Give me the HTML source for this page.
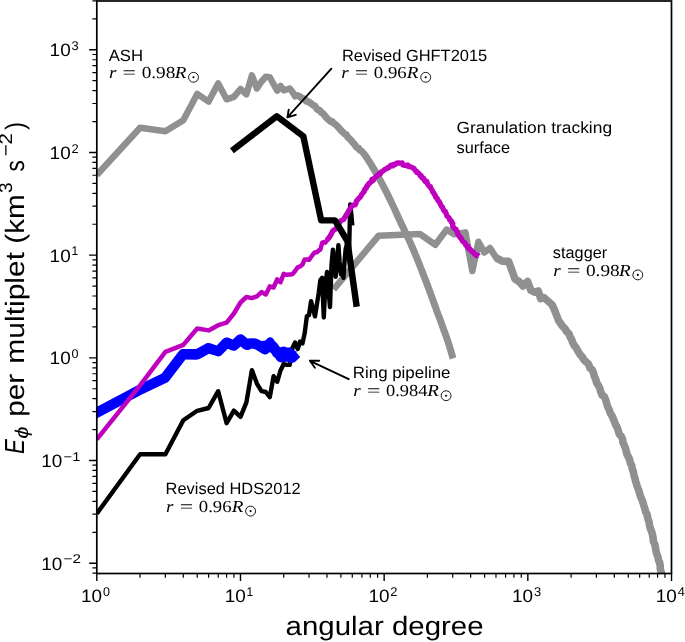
<!DOCTYPE html>
<html><head><meta charset="utf-8"><title>Power spectra</title>
<style>html,body{margin:0;padding:0;background:#fff;}svg{display:block;font-family:"Liberation Sans",sans-serif;text-rendering:geometricPrecision;will-change:transform;}</style>
</head><body>
<svg width="685" height="642" viewBox="0 0 685 642">
<rect width="685" height="642" fill="#fff"/>
<defs><clipPath id="ax"><rect x="96.8" y="1.0" width="574.7" height="572.5"/></clipPath></defs>
<g clip-path="url(#ax)" fill="none" stroke-linejoin="round" stroke-linecap="butt">
<polyline points="96.8,175.0 140.1,127.8 165.4,131.3 183.3,120.3 197.2,93.9 208.6,101.6 218.2,83.4 226.6,99.3 233.9,96.9 240.5,89.0 246.4,94.3 251.9,75.4 256.9,88.5 261.5,81.5 265.8,76.8 269.8,77.2 273.6,84.2 277.2,90.6 280.5,85.9 283.7,90.3 286.8,89.4 289.7,88.5 292.5,92.0 295.1,96.4 297.7,95.2 299.0,96.1 300.8,97.4 302.9,98.7" stroke="#909090" stroke-width="6.5"/>
<polyline points="299.0,96.1 300.8,97.4 302.9,98.7 304.9,99.1 306.4,101.4 308.5,101.8 311.1,103.5 313.0,105.0 315.0,106.1 316.6,108.5 318.1,109.8 319.7,110.3 321.4,112.5 322.6,113.2 324.6,115.3 326.0,117.3 327.5,118.8 328.9,119.9 330.5,121.4 332.3,121.4 333.3,122.9 335.5,124.5 336.8,125.7 338.2,127.2 339.7,128.9 341.4,130.8 343.1,132.4 344.8,134.1 346.2,134.5 347.9,137.4 349.5,138.7 350.9,140.0 352.5,142.3 353.7,143.2 355.7,146.1 356.7,147.4 358.4,148.0 359.8,150.2 361.3,150.9 362.8,152.4 364.6,154.6 365.6,156.0 366.6,157.5 367.7,159.2 368.9,161.1 370.1,163.0 371.4,165.0 372.5,166.9 373.7,168.9 374.8,170.7 375.8,172.5 376.9,174.2 377.8,176.0 378.8,177.7 379.8,179.5 380.7,181.3 381.7,183.0 382.6,184.9 383.6,186.7 384.6,188.6 385.6,190.5 386.6,192.5 387.6,194.5 388.5,196.5 389.5,198.4 390.5,200.4 391.4,202.3 392.3,204.2 393.2,206.2 394.1,208.0 394.9,209.7 395.7,211.5 396.5,213.3 397.4,215.3 398.4,217.5 399.6,220.0 400.3,221.5 401.0,223.1 401.8,224.7 402.6,226.4 403.5,228.2 404.3,230.0 405.2,231.9 406.1,233.8 407.0,235.7 408.0,237.6 408.9,239.6 409.8,241.6 410.7,243.6 411.5,245.5 412.4,247.5 413.2,249.3 414.0,251.2 414.8,253.1 415.5,254.9 416.3,256.8 417.1,258.8 417.9,260.7 418.7,262.6 419.5,264.6 420.2,266.5 421.0,268.5 421.8,270.5 422.6,272.5 423.3,274.5 424.1,276.5 424.9,278.5 425.6,280.4 426.4,282.4 427.1,284.4 427.9,286.4 428.6,288.4 429.4,290.4 430.1,292.5 430.9,294.6 431.6,296.6 432.4,298.6 433.1,300.7 433.8,302.7 434.5,304.6 435.3,306.6 436.0,308.5 436.6,310.4 437.3,312.2 438.1,314.4 438.9,316.5 439.7,318.6 440.5,320.7 441.2,322.8 442.0,324.8 442.7,326.8 443.4,328.8 444.1,330.7 444.8,332.6 445.5,334.4 446.1,336.2 446.7,337.9 447.3,339.6 448.2,342.2 449.0,344.7 449.7,347.2 450.4,349.5 451.1,351.7 451.7,353.8 452.2,355.6 452.6,357.1 453.0,358.3" stroke="#909090" stroke-width="7.0"/>
<polyline points="333.6,289.3 378.5,235.8 419.9,234.0 435.3,244.8 446.6,229.6 454.5,234.3 465.4,232.4 472.3,271.0 478.4,241.8 484.3,252.4 490.0,248.1 496.2,257.8 502.4,261.2 508.6,261.4" stroke="#909090" stroke-width="6.6"/>
<polyline points="496.2,257.8 502.4,261.2 508.6,261.4 515.0,279.0 519.3,281.8 523.0,286.0 527.6,281.5 530.8,290.2 535.1,292.2 538.3,291.0 540.6,298.6 543.9,297.5 551.9,304.5 553.0,306.7 554.7,310.4 555.8,313.3 557.3,317.1 558.6,320.6 560.3,322.9 562.4,326.1 564.8,328.4 566.6,331.5 569.0,333.7 570.3,337.5 571.5,339.0 572.7,342.7 574.5,345.9 576.0,347.4 577.5,350.3 579.6,353.9 582.3,357.0 583.9,359.8 586.0,361.8 588.5,364.0 590.0,368.1 592.3,370.0 593.7,373.7 594.3,376.2 595.8,379.6 596.7,382.9 598.5,385.6 599.6,387.9 600.7,391.7 602.0,395.0 604.1,396.4 605.6,399.7 606.7,403.5 607.6,406.5 609.2,409.9 610.2,413.0 612.1,416.0 613.0,418.1 614.3,421.5 615.8,425.0 617.0,427.0 618.3,430.7 619.2,434.1 620.9,435.7 622.5,438.7 623.0,442.7 624.3,445.4 625.4,448.2 626.1,450.7 627.0,454.6 628.6,457.3 629.7,460.0 630.3,463.0 631.7,465.4 632.3,468.7 633.4,471.9 633.9,474.9 635.0,478.6 635.7,481.7 636.4,483.6 637.2,486.3 638.9,490.6 639.4,492.8 640.7,496.9 642.1,500.1 642.9,502.2 643.8,505.4 645.0,509.3 645.7,511.9 647.1,514.6 648.0,519.3 649.0,521.6 649.5,525.1 650.5,529.0 651.4,530.9 652.4,534.4 653.1,538.0 653.4,541.3 654.7,544.0 655.4,547.1 655.9,550.5 656.6,553.6 657.9,556.7 658.7,560.8 659.7,562.5 660.3,566.6 660.3,569.3 661.2,571.9 662.2,577.1 663.0,580.0" stroke="#909090" stroke-width="7.6"/>
<polyline points="96.8,513.6 140.1,454.3 165.4,454.3 183.3,420.2 197.2,410.8 208.6,408.0 218.2,391.2 226.6,423.2 233.9,410.6 240.5,416.8 246.4,402.3 251.9,370.1 256.9,383.6 261.5,391.1 265.8,392.0 269.8,397.1 273.6,376.1 277.2,381.8 280.5,370.5 283.7,364.0 286.8,364.9 289.7,364.9 292.5,348.0 295.1,342.5 297.7,349.0 300.1,341.5 302.5,343.4 304.7,333.0 306.9,316.0 309.0,315.2 311.1,301.2 313.1,309.3 315.0,316.3 316.8,305.0 318.7,293.0 320.4,280.0 322.1,277.8 323.8,317.5 325.4,285.0 327.0,272.0 328.5,290.0 330.0,307.0 331.5,265.0 332.9,249.8 334.3,262.0 335.7,276.7 337.0,260.0 338.4,245.2 339.6,262.0 340.9,274.3 342.1,268.0 343.4,277.8 344.5,262.0 345.7,248.7 346.9,245.0 348.0,241.7 349.1,252.0 350.2,204.5 351.2,213.0 352.3,225.5" stroke="#000" stroke-width="4.4"/>
<polygon points="87.6,411.6 90.1,416.4 90.5,417.4 90.9,418.0 92.4,420.7 96.8,418.5 142.4,394.3 167.1,382.6 168.1,382.0 169.0,381.1 185.5,359.5 196.2,359.7 198.5,359.3 199.7,358.9 209.0,353.7 216.6,356.1 218.0,356.4 219.4,356.3 220.8,355.7 221.9,354.8 227.8,348.8 231.9,350.4 233.4,350.7 234.8,350.7 236.2,350.2 237.4,349.3 240.6,346.4 243.0,348.5 244.0,349.2 246.5,350.0 247.5,350.1 248.5,349.9 252.0,348.6 255.5,349.5 258.8,351.5 259.7,352.0 261.1,353.0 262.0,353.5 263.8,354.2 264.7,354.4 265.7,354.4 266.7,354.2 267.6,353.7 269.8,352.1 271.3,353.2 272.8,355.7 273.6,356.7 275.4,357.9 276.6,359.9 277.3,360.8 278.2,361.4 280.1,362.3 281.0,362.4 283.8,362.0 286.8,361.8 289.4,362.5 289.4,362.9 292.6,362.9 295.3,361.8 300.2,357.1 296.4,352.6 296.8,351.6 295.1,351.1 292.7,348.4 289.4,346.9 289.4,347.5 286.8,347.4 285.0,346.8 284.1,346.6 283.3,346.6 280.4,347.3 279.3,346.5 278.0,344.5 277.2,343.5 274.5,340.8 273.2,338.8 272.4,338.0 271.5,337.5 270.4,337.3 269.4,337.3 268.4,337.7 267.5,338.2 266.4,339.6 265.5,340.4 261.5,341.0 259.5,339.9 257.4,339.0 256.1,338.6 252.4,338.2 251.4,338.2 247.4,338.6 243.9,335.5 242.9,334.8 241.7,334.3 240.4,334.2 239.2,334.4 238.0,334.9 237.0,335.6 232.8,339.6 228.6,337.8 227.4,337.5 226.2,337.5 225.0,337.7 223.9,338.2 222.9,339.0 216.7,345.4 210.3,343.2 208.8,343.0 207.4,343.1 206.1,343.6 196.2,349.0 183.0,349.0 182.1,349.1 180.8,349.6 179.8,350.3 179.0,351.1 161.6,373.8 137.6,385.2 87.6,411.6" fill="#0000ff" stroke="none"/>
<polyline points="96.8,439.3 140.1,385.4 165.4,351.9 183.3,344.9 197.2,328.5 208.6,330.4 218.2,325.2 226.6,322.7 233.9,313.5 240.5,302.5 246.4,297.0 251.9,298.1 256.9,296.3 261.5,292.1 265.8,294.4 269.8,286.4 273.6,287.5 277.2,279.4 280.5,282.2 283.7,273.8 286.8,274.8 289.7,274.4 292.5,274.2 295.1,271.0 297.7,267.3 300.1,266.4 302.5,264.5 304.7,259.4 306.9,259.4 309.0,259.8 311.1,257.0 313.1,254.2 315.0,252.3 316.8,252.3 318.7,250.5 320.4,249.5 322.1,243.0 323.8,242.0 325.4,242.6 327.0,240.2 330.0,236.4 332.9,230.8" stroke="#bf00bf" stroke-width="4.5"/>
<polyline points="327.0,240.2 330.0,236.4 332.9,230.8 335.7,229.0 338.4,224.3 340.9,220.6 343.4,219.6 346.9,214.0 350.2,208.4 350.8,207.8 351.9,206.3 352.7,205.4 353.8,204.9 355.1,204.9 355.8,203.7 356.3,201.2 357.3,200.1 357.6,199.8 358.7,198.3 358.9,198.5 359.9,197.5 361.2,195.4 361.6,194.5 362.5,193.5 363.1,192.6 364.2,191.4 364.4,190.7 364.9,188.9 366.3,188.3 366.7,186.3 367.3,186.3 367.7,185.3 369.0,183.3 369.8,183.1 370.6,182.0 371.5,181.7 371.9,179.5 373.4,180.2 374.0,178.4 375.3,177.3 376.1,176.4 377.1,176.1 378.0,174.9 379.4,173.4 380.3,173.9 381.0,172.2 382.5,171.4 383.0,171.0 384.5,169.6 385.1,169.3 386.5,168.8 387.5,167.7 387.9,168.0 389.7,166.8 390.3,165.5 391.7,165.1 393.0,165.8 393.5,164.4 395.2,164.6 396.3,163.6 396.7,163.1 398.5,162.8 399.5,163.1 400.6,163.2 402.3,163.0 402.8,164.8 404.9,165.3 405.8,165.7 407.6,165.0 408.6,166.6 409.7,166.6 410.4,166.8 411.4,167.0 412.7,168.0 413.9,168.3 415.0,170.2 416.1,171.4 417.0,171.6 417.1,172.7 418.1,172.8 419.5,174.1 420.2,175.8 421.3,175.7 421.9,177.6 423.0,178.5 423.6,178.3 424.5,180.3 424.9,181.2 426.3,182.1 426.9,181.6 427.5,184.1 427.7,184.1 428.6,185.5 429.5,186.5 430.5,186.7 430.6,187.9 431.3,188.8 432.7,191.3 432.6,191.8 433.5,192.5 434.1,194.2 435.0,194.8 435.3,195.9 435.9,197.4 437.1,198.2 437.2,198.9 438.2,200.8 439.2,201.5 439.9,203.1 440.3,203.8 441.0,205.5 441.7,206.7 442.4,207.0 443.1,208.9 443.3,209.4 444.3,211.2 445.3,211.3 446.1,213.4 446.3,214.0 446.9,215.8 448.1,217.0 448.9,217.7 449.5,218.6 449.6,219.8 450.2,220.1 451.5,221.1 451.5,222.3 452.8,223.6 452.6,226.0 453.4,227.3 454.7,228.6 455.4,229.1 455.9,229.1 456.5,231.0 457.1,231.3 457.7,233.9 457.8,233.9 458.9,235.9 459.3,235.8 460.0,237.6 461.1,238.2 461.4,239.1 462.1,240.2 462.7,241.5 464.3,242.3 464.9,242.9 465.6,244.9 466.4,245.4 467.0,246.5 468.1,246.5 468.1,248.3 469.9,249.0 470.5,250.4 471.3,250.5 472.3,251.9 473.3,252.0 474.5,254.0 475.4,254.6 476.7,255.7 477.9,255.3 478.6,256.2" stroke="#bf00bf" stroke-width="5.3"/>
<polyline points="231.9,150.8 276.8,116.2 303.3,136.2 321.2,220.4 335.0,220.4 347.4,241.0 356.7,306.8" stroke="#000" stroke-width="6.4"/>
</g>
<rect x="96.8" y="1.0" width="574.7" height="572.5" fill="none" stroke="#000" stroke-width="1.7"/>
<path d="M96.80,573.5v7.4 M240.48,573.5v7.4 M384.16,573.5v7.4 M527.84,573.5v7.4 M671.52,573.5v7.4 M96.8,563.20h-7.7 M96.8,460.52h-7.7 M96.8,357.84h-7.7 M96.8,255.16h-7.7 M96.8,152.48h-7.7 M96.8,49.80h-7.7" stroke="#000" stroke-width="1.4" fill="none"/>
<path d="M140.05,573.5v4.2 M165.35,573.5v4.2 M183.30,573.5v4.2 M197.23,573.5v4.2 M208.60,573.5v4.2 M218.22,573.5v4.2 M226.56,573.5v4.2 M233.91,573.5v4.2 M283.73,573.5v4.2 M309.03,573.5v4.2 M326.98,573.5v4.2 M340.91,573.5v4.2 M352.28,573.5v4.2 M361.90,573.5v4.2 M370.24,573.5v4.2 M377.59,573.5v4.2 M427.41,573.5v4.2 M452.71,573.5v4.2 M470.66,573.5v4.2 M484.59,573.5v4.2 M495.96,573.5v4.2 M505.58,573.5v4.2 M513.92,573.5v4.2 M521.27,573.5v4.2 M571.09,573.5v4.2 M596.39,573.5v4.2 M614.34,573.5v4.2 M628.27,573.5v4.2 M639.64,573.5v4.2 M649.26,573.5v4.2 M657.60,573.5v4.2 M664.95,573.5v4.2 M96.8,573.15h-4.4 M96.8,567.90h-4.4 M96.8,532.29h-4.4 M96.8,514.21h-4.4 M96.8,501.38h-4.4 M96.8,491.43h-4.4 M96.8,483.30h-4.4 M96.8,476.43h-4.4 M96.8,470.47h-4.4 M96.8,465.22h-4.4 M96.8,429.61h-4.4 M96.8,411.53h-4.4 M96.8,398.70h-4.4 M96.8,388.75h-4.4 M96.8,380.62h-4.4 M96.8,373.75h-4.4 M96.8,367.79h-4.4 M96.8,362.54h-4.4 M96.8,326.93h-4.4 M96.8,308.85h-4.4 M96.8,296.02h-4.4 M96.8,286.07h-4.4 M96.8,277.94h-4.4 M96.8,271.07h-4.4 M96.8,265.11h-4.4 M96.8,259.86h-4.4 M96.8,224.25h-4.4 M96.8,206.17h-4.4 M96.8,193.34h-4.4 M96.8,183.39h-4.4 M96.8,175.26h-4.4 M96.8,168.39h-4.4 M96.8,162.43h-4.4 M96.8,157.18h-4.4 M96.8,121.57h-4.4 M96.8,103.49h-4.4 M96.8,90.66h-4.4 M96.8,80.71h-4.4 M96.8,72.58h-4.4 M96.8,65.71h-4.4 M96.8,59.75h-4.4 M96.8,54.50h-4.4 M96.8,18.89h-4.4 M96.8,0.81h-4.4" stroke="#000" stroke-width="1.2" fill="none"/>
<text x="81.04" y="602.4" font-family="Liberation Sans, sans-serif" font-size="18.0" textLength="21.09" lengthAdjust="spacingAndGlyphs">10</text>
<text x="102.98" y="596.1" font-family="Liberation Sans, sans-serif" font-size="12.6" textLength="6.99" lengthAdjust="spacingAndGlyphs">0</text>
<text x="224.72" y="602.4" font-family="Liberation Sans, sans-serif" font-size="18.0" textLength="21.09" lengthAdjust="spacingAndGlyphs">10</text>
<text x="246.55" y="596.1" font-family="Liberation Sans, sans-serif" font-size="12.6" textLength="6.70" lengthAdjust="spacingAndGlyphs">1</text>
<text x="368.40" y="602.4" font-family="Liberation Sans, sans-serif" font-size="18.0" textLength="21.09" lengthAdjust="spacingAndGlyphs">10</text>
<text x="390.25" y="596.1" font-family="Liberation Sans, sans-serif" font-size="12.6" textLength="7.19" lengthAdjust="spacingAndGlyphs">2</text>
<text x="512.08" y="602.4" font-family="Liberation Sans, sans-serif" font-size="18.0" textLength="21.09" lengthAdjust="spacingAndGlyphs">10</text>
<text x="533.95" y="596.1" font-family="Liberation Sans, sans-serif" font-size="12.6" textLength="7.17" lengthAdjust="spacingAndGlyphs">3</text>
<text x="655.76" y="602.4" font-family="Liberation Sans, sans-serif" font-size="18.0" textLength="21.09" lengthAdjust="spacingAndGlyphs">10</text>
<text x="677.73" y="596.1" font-family="Liberation Sans, sans-serif" font-size="12.6" textLength="7.14" lengthAdjust="spacingAndGlyphs">4</text>
<text x="41.24" y="569.5" font-family="Liberation Sans, sans-serif" font-size="18.0" textLength="21.09" lengthAdjust="spacingAndGlyphs">10</text>
<text x="63.62" y="563.2" font-family="Liberation Sans, sans-serif" font-size="12.6" textLength="17.35" lengthAdjust="spacingAndGlyphs">−2</text>
<text x="41.24" y="466.8" font-family="Liberation Sans, sans-serif" font-size="18.0" textLength="21.09" lengthAdjust="spacingAndGlyphs">10</text>
<text x="63.63" y="460.5" font-family="Liberation Sans, sans-serif" font-size="12.6" textLength="16.72" lengthAdjust="spacingAndGlyphs">−1</text>
<text x="49.64" y="364.1" font-family="Liberation Sans, sans-serif" font-size="18.0" textLength="21.09" lengthAdjust="spacingAndGlyphs">10</text>
<text x="71.58" y="357.8" font-family="Liberation Sans, sans-serif" font-size="12.6" textLength="6.99" lengthAdjust="spacingAndGlyphs">0</text>
<text x="49.64" y="261.5" font-family="Liberation Sans, sans-serif" font-size="18.0" textLength="21.09" lengthAdjust="spacingAndGlyphs">10</text>
<text x="71.47" y="255.2" font-family="Liberation Sans, sans-serif" font-size="12.6" textLength="6.70" lengthAdjust="spacingAndGlyphs">1</text>
<text x="49.64" y="158.8" font-family="Liberation Sans, sans-serif" font-size="18.0" textLength="21.09" lengthAdjust="spacingAndGlyphs">10</text>
<text x="71.49" y="152.5" font-family="Liberation Sans, sans-serif" font-size="12.6" textLength="7.19" lengthAdjust="spacingAndGlyphs">2</text>
<text x="49.64" y="56.1" font-family="Liberation Sans, sans-serif" font-size="18.0" textLength="21.09" lengthAdjust="spacingAndGlyphs">10</text>
<text x="71.51" y="49.8" font-family="Liberation Sans, sans-serif" font-size="12.6" textLength="7.17" lengthAdjust="spacingAndGlyphs">3</text>
<text x="285.57" y="634.7" font-family="Liberation Sans, sans-serif" font-size="26.6" textLength="198.01" lengthAdjust="spacingAndGlyphs">angular degree</text>
<text transform="translate(23.6,453.50) rotate(-90)" x="-0.38" y="0" font-family="Liberation Sans, sans-serif" font-size="27.6" font-style="italic" textLength="14.89" lengthAdjust="spacingAndGlyphs">E</text>
<text transform="translate(28.2,438.40) rotate(-90)" x="-0.47" y="0" font-family="Liberation Sans, sans-serif" font-size="18.5" font-style="italic" textLength="12.35" lengthAdjust="spacingAndGlyphs">ϕ</text>
<text transform="translate(23.6,415.30) rotate(-90)" x="-1.54" y="0" font-family="Liberation Sans, sans-serif" font-size="26.6" textLength="43.09" lengthAdjust="spacingAndGlyphs">per</text>
<text transform="translate(23.6,362.10) rotate(-90)" x="-1.57" y="0" font-family="Liberation Sans, sans-serif" font-size="26.6" textLength="111.68" lengthAdjust="spacingAndGlyphs">multiplet</text>
<text transform="translate(23.6,242.10) rotate(-90)" x="-1.57" y="0" font-family="Liberation Sans, sans-serif" font-size="26.6" textLength="49.35" lengthAdjust="spacingAndGlyphs">(km</text>
<text transform="translate(12.4,192.50) rotate(-90)" x="-0.45" y="0" font-family="Liberation Sans, sans-serif" font-size="18.5" textLength="10.55" lengthAdjust="spacingAndGlyphs">3</text>
<text transform="translate(23.6,171.10) rotate(-90)" x="-0.40" y="0" font-family="Liberation Sans, sans-serif" font-size="26.6" textLength="11.18" lengthAdjust="spacingAndGlyphs">s</text>
<text transform="translate(12.4,155.90) rotate(-90)" x="-0.47" y="0" font-family="Liberation Sans, sans-serif" font-size="18.5" textLength="23.35" lengthAdjust="spacingAndGlyphs">−2</text>
<text transform="translate(23.6,129.70) rotate(-90)" x="-0.35" y="0" font-family="Liberation Sans, sans-serif" font-size="26.6" textLength="8.11" lengthAdjust="spacingAndGlyphs">)</text>
<text x="108.67" y="60.5" font-family="Liberation Sans, sans-serif" font-size="16.2" textLength="34.29" lengthAdjust="spacingAndGlyphs">ASH</text>
<text x="341.90" y="61.0" font-family="Liberation Sans, sans-serif" font-size="16.2" textLength="145.36" lengthAdjust="spacingAndGlyphs">Revised GHFT2015</text>
<text x="456.43" y="132.8" font-family="Liberation Sans, sans-serif" font-size="16.2" textLength="155.65" lengthAdjust="spacingAndGlyphs">Granulation tracking</text>
<text x="456.48" y="153.2" font-family="Liberation Sans, sans-serif" font-size="16.2" textLength="53.51" lengthAdjust="spacingAndGlyphs">surface</text>
<text x="552.89" y="257.5" font-family="Liberation Sans, sans-serif" font-size="16.2" textLength="54.28" lengthAdjust="spacingAndGlyphs">stagger</text>
<text x="352.79" y="377.9" font-family="Liberation Sans, sans-serif" font-size="16.2" textLength="97.68" lengthAdjust="spacingAndGlyphs">Ring pipeline</text>
<text x="165.61" y="494.3" font-family="Liberation Sans, sans-serif" font-size="16.2" textLength="135.03" lengthAdjust="spacingAndGlyphs">Revised HDS2012</text>
<text x="109.00" y="77.9" font-family="Liberation Serif, serif" font-size="16.8" font-style="italic" textLength="7.43" lengthAdjust="spacingAndGlyphs">r</text>
<text x="122.64" y="77.9" font-family="Liberation Serif, serif" font-size="16.8" textLength="13.46" lengthAdjust="spacingAndGlyphs">=</text>
<text x="141.65" y="77.9" font-family="Liberation Serif, serif" font-size="16.8" textLength="33.78" lengthAdjust="spacingAndGlyphs">0.98</text>
<text x="174.67" y="77.9" font-family="Liberation Serif, serif" font-size="16.8" font-style="italic" textLength="11.63" lengthAdjust="spacingAndGlyphs">R</text>
<text x="341.20" y="77.9" font-family="Liberation Serif, serif" font-size="16.8" font-style="italic" textLength="7.43" lengthAdjust="spacingAndGlyphs">r</text>
<text x="354.84" y="77.9" font-family="Liberation Serif, serif" font-size="16.8" textLength="13.46" lengthAdjust="spacingAndGlyphs">=</text>
<text x="373.86" y="77.9" font-family="Liberation Serif, serif" font-size="16.8" textLength="32.86" lengthAdjust="spacingAndGlyphs">0.96</text>
<text x="406.87" y="77.9" font-family="Liberation Serif, serif" font-size="16.8" font-style="italic" textLength="11.63" lengthAdjust="spacingAndGlyphs">R</text>
<text x="553.30" y="275.5" font-family="Liberation Serif, serif" font-size="16.8" font-style="italic" textLength="7.43" lengthAdjust="spacingAndGlyphs">r</text>
<text x="566.94" y="275.5" font-family="Liberation Serif, serif" font-size="16.8" textLength="13.46" lengthAdjust="spacingAndGlyphs">=</text>
<text x="585.95" y="275.5" font-family="Liberation Serif, serif" font-size="16.8" textLength="33.78" lengthAdjust="spacingAndGlyphs">0.98</text>
<text x="618.97" y="275.5" font-family="Liberation Serif, serif" font-size="16.8" font-style="italic" textLength="11.63" lengthAdjust="spacingAndGlyphs">R</text>
<text x="353.30" y="396.3" font-family="Liberation Serif, serif" font-size="16.8" font-style="italic" textLength="7.43" lengthAdjust="spacingAndGlyphs">r</text>
<text x="366.94" y="396.3" font-family="Liberation Serif, serif" font-size="16.8" textLength="13.46" lengthAdjust="spacingAndGlyphs">=</text>
<text x="385.97" y="396.3" font-family="Liberation Serif, serif" font-size="16.8" textLength="41.49" lengthAdjust="spacingAndGlyphs">0.984</text>
<text x="427.27" y="396.3" font-family="Liberation Serif, serif" font-size="16.8" font-style="italic" textLength="11.63" lengthAdjust="spacingAndGlyphs">R</text>
<text x="166.10" y="511.7" font-family="Liberation Serif, serif" font-size="16.8" font-style="italic" textLength="7.43" lengthAdjust="spacingAndGlyphs">r</text>
<text x="179.74" y="511.7" font-family="Liberation Serif, serif" font-size="16.8" textLength="13.46" lengthAdjust="spacingAndGlyphs">=</text>
<text x="198.76" y="511.7" font-family="Liberation Serif, serif" font-size="16.8" textLength="32.86" lengthAdjust="spacingAndGlyphs">0.96</text>
<text x="231.77" y="511.7" font-family="Liberation Serif, serif" font-size="16.8" font-style="italic" textLength="11.63" lengthAdjust="spacingAndGlyphs">R</text>
<circle cx="193.5" cy="77.3" r="4.95" fill="none" stroke="#000" stroke-width="0.9"/><circle cx="193.5" cy="77.3" r="1.05" fill="#000"/>
<circle cx="425.7" cy="77.3" r="4.95" fill="none" stroke="#000" stroke-width="0.9"/><circle cx="425.7" cy="77.3" r="1.05" fill="#000"/>
<circle cx="637.8" cy="274.9" r="4.95" fill="none" stroke="#000" stroke-width="0.9"/><circle cx="637.8" cy="274.9" r="1.05" fill="#000"/>
<circle cx="446.1" cy="395.7" r="4.95" fill="none" stroke="#000" stroke-width="0.9"/><circle cx="446.1" cy="395.7" r="1.05" fill="#000"/>
<circle cx="250.6" cy="511.1" r="4.95" fill="none" stroke="#000" stroke-width="0.9"/><circle cx="250.6" cy="511.1" r="1.05" fill="#000"/>
<g fill="none" stroke="#000" stroke-width="1.9" stroke-linecap="round" stroke-linejoin="round">
<path d="M331.4,68.7L287.4,117.3M288.7,109.6L287.4,117.3L295.8,114.8"/>
<path d="M348.7,379.1L309.9,360.8M319.2,360.8L309.9,360.8L314.9,367.7"/>
</g>
</svg>
</body></html>
